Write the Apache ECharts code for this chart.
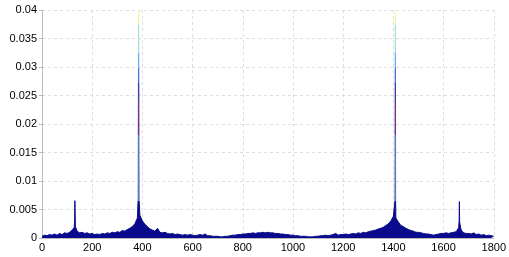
<!DOCTYPE html>
<html>
<head>
<meta charset="utf-8">
<script src="https://cdn.jsdelivr.net/npm/echarts@6/dist/echarts.min.js"></script>
<style>
  html, body { margin: 0; padding: 0; background: #fff; }
  #spectrum-chart { width: 509px; height: 257px; }
</style>
</head>
<body>
<div id="spectrum-chart"></div>
<script>
// amplitude values, in units of 1e-4
// background spectrum, sampled every 10 (0 .. 1800)
const freqStep = 10
const baseAmp = [
  3, 5, 4, 6, 5, 7, 5, 8, 6, 9, // 0-90
  8, 10, 14, 28, 12, 9, 10, 8, 9, 7, // 100-190
  8, 6, 7, 6, 8, 7, 9, 8, 10, 9, // 200-290
  11, 10, 13, 12, 15, 17, 20, 25, 35, 40, // 300-390
  30, 24, 20, 16, 14, 12, 17, 10, 9, 10, // 400-490
  8, 7, 8, 6, 7, 6, 5, 6, 5, 6, // 500-590
  5, 4, 5, 6, 5, 7, 4, 4, 3, 3, // 600-690
  3, 2, 2, 3, 3, 4, 5, 5, 6, 6, // 700-790
  7, 7, 8, 8, 9, 8, 9, 9, 10, 9, // 800-890
  10, 9, 9, 8, 8, 7, 7, 6, 6, 5, // 900-990
  5, 4, 4, 3, 3, 3, 2, 2, 2, 3, // 1000-1090
  3, 4, 4, 5, 4, 5, 6, 8, 5, 6, // 1100-1190
  6, 7, 6, 7, 8, 7, 9, 8, 10, 9, // 1200-1290
  11, 12, 13, 14, 16, 17, 19, 22, 25, 30, // 1300-1390
  38, 35, 28, 22, 20, 17, 15, 13, 12, 10, // 1400-1490
  10, 9, 8, 7, 7, 6, 5, 6, 7, 8, // 1500-1590
  8, 9, 8, 9, 10, 11, 18, 14, 9, 8, // 1600-1690
  8, 7, 9, 6, 7, 5, 6, 4, 5, 4, // 1700-1790
  3 // 1800
]
// narrow spectral lines
const peakFreq = [128, 131, 133, 383, 385, 387, 1406, 1408, 1409, 1662, 1663, 1664]
const peakAmp = [18, 66, 20, 68, 400, 66, 64, 395, 62, 30, 64, 28]

const yTicks = ['0', '0.005', '0.01', '0.015', '0.02', '0.025', '0.03', '0.035', '0.04']

const points = baseAmp.map((a, i) => [i * freqStep, a * 1e-4])
peakFreq.forEach((f, i) => points.push([f, peakAmp[i] * 1e-4]))
points.sort((a, b) => a[0] - b[0])

const chart = echarts.init(document.getElementById('spectrum-chart'))
const labelFont = { color: '#000', fontFamily: 'Liberation Sans', fontSize: 11 }
chart.setOption({
  animation: false,
  grid: { left: 42, right: 9, top: 10, bottom: 19 },
  xAxis: {
    type: 'value',
    min: 0,
    max: 1800,
    interval: 200,
    axisLine: { show: true, onZero: false, lineStyle: { color: '#bbb' } },
    axisTick: { show: false },
    axisLabel: { ...labelFont, margin: 4, formatter: (v) => String(v) },
    splitLine: { show: true, lineStyle: { color: '#ddd', type: [3, 3] } }
  },
  yAxis: {
    type: 'value',
    min: 0,
    max: 0.04,
    interval: 0.005,
    axisLine: { show: true, lineStyle: { color: '#bbb' } },
    axisTick: { show: true, length: 3, lineStyle: { color: '#bbb' } },
    axisLabel: {
      ...labelFont,
      margin: 5,
      formatter: (v, i) => yTicks[i]
    },
    splitLine: { show: true, lineStyle: { color: '#ddd', type: [3, 3] } }
  },
  visualMap: {
    show: false,
    type: 'piecewise',
    dimension: 1,
    seriesIndex: 0,
    pieces: [
      { lt: 0.0065, color: '#0a0a8c' },
      { gte: 0.0065, lt: 0.018, color: '#5577c0' },
      { gte: 0.018, lt: 0.0242, color: '#6a3090' },
      { gte: 0.0242, lt: 0.0272, color: '#3a3aa8' },
      { gte: 0.0272, lt: 0.0298, color: '#4a70e0' },
      { gte: 0.0298, lt: 0.0324, color: '#6aaaf8' },
      { gte: 0.0324, lt: 0.0373, color: '#a0e0d8' },
      { gte: 0.0373, color: '#eef8a0' }
    ]
  },
  series: [
    {
      type: 'line',
      data: points,
      showSymbol: false,
      sampling: null,
      lineStyle: { width: 1 },
      areaStyle: { opacity: 1 }
    }
  ]
})
</script>
</body>
</html>
